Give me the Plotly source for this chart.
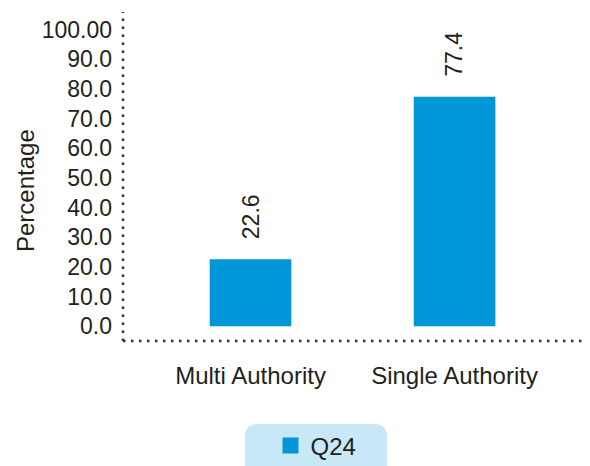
import plotly.graph_objects as go

categories = ["Multi Authority", "Single Authority"]
values = [22.6, 77.4]
value_labels = ["22.6", "77.4"]
series_name = "Q24"
axis_title = "Percentage"
tick_values = [0, 10, 20, 30, 40, 50, 60, 70, 80, 90, 100]
tick_labels = ["0.0", "10.0", "20.0", "30.0", "40.0", "50.0", "60.0", "70.0", "80.0", "90.0", "100.00"]

BLUE = "#0096D8"
TXT = "#231F20"
FONT = "Liberation Sans, Arial, sans-serif"

fig = go.Figure()
fig.add_trace(go.Bar(
    x=categories, y=values, width=0.4, marker=dict(color=BLUE, line=dict(width=0)),
    name=series_name, showlegend=False,
))
# legend proxy with larger square marker
fig.add_trace(go.Scatter(
    x=[None], y=[None], mode="markers", name=series_name,
    marker=dict(symbol="square", size=20, color=BLUE),
))

for c, v, t in zip(categories, values, value_labels):
    fig.add_annotation(x=c, y=v, text=t, textangle=-90, showarrow=False,
                       yanchor="bottom", yshift=18, font=dict(size=23, color=TXT, family=FONT))

# page body has an 8px margin: figure coords = screen coords - 8
OFF = 8
W, H = 590, 466
L, T = 123 - OFF, 12 - OFF
plot_right = 590 - OFF
plot_bottom = 341 - OFF
R, B = W - plot_right, H - plot_bottom
pw, ph = W - L - R, H - T - B

def px(xs):
    return (xs - OFF - L) / pw

def py(ys):
    return (plot_bottom - (ys - OFF)) / ph

# y-axis title
fig.add_annotation(xref="paper", yref="paper", x=px(25), y=py(191), text=axis_title,
                   textangle=-90, showarrow=False, xanchor="center", yanchor="middle",
                   font=dict(size=24, color=TXT, family=FONT))

# dotted axes
dot = dict(color="#333333", width=2.5, dash="2.5px,5.5px")
fig.add_shape(type="line", xref="paper", yref="paper", x0=0, x1=0, y0=0, y1=1, line=dot)
fig.add_shape(type="line", xref="paper", yref="paper", x0=0, x1=1.02, y0=0, y1=0, line=dot)

# rounded legend background
x0, x1, y0, y1 = px(245), px(387), py(424), py(490)
rx, ry = 13 / pw, 13 / ph
path = (f"M {x0} {y1} L {x0} {y0 - ry} Q {x0} {y0} {x0 + rx} {y0} "
        f"L {x1 - rx} {y0} Q {x1} {y0} {x1} {y0 - ry} L {x1} {y1} Z")
fig.add_shape(type="path", xref="paper", yref="paper", path=path,
              fillcolor="#C8E8F8", line=dict(width=0), layer="below")

fig.update_layout(
    width=W, height=H,
    margin=dict(l=L, r=R, t=T, b=B, pad=0, autoexpand=False),
    paper_bgcolor="white", plot_bgcolor="white",
    font=dict(family=FONT, size=23, color=TXT),
    xaxis=dict(range=[-0.625, 1.664], showgrid=False, showline=False, zeroline=False,
               automargin=False, ticks="", ticklabelstandoff=18, tickfont=dict(size=24, color=TXT)),
    yaxis=dict(range=[-5.0, 106.0], tickvals=tick_values, ticktext=tick_labels,
               showgrid=False, showline=False, zeroline=False, ticks="", automargin=False,
               ticklabelstandoff=10, tickfont=dict(size=23, color=TXT)),
    legend=dict(orientation="h", x=px(316), xanchor="center", y=py(446), yanchor="middle",
                bgcolor="rgba(0,0,0,0)", font=dict(size=24, color=TXT), itemwidth=30),
    showlegend=True,
)

fig.write_html("out.html")
